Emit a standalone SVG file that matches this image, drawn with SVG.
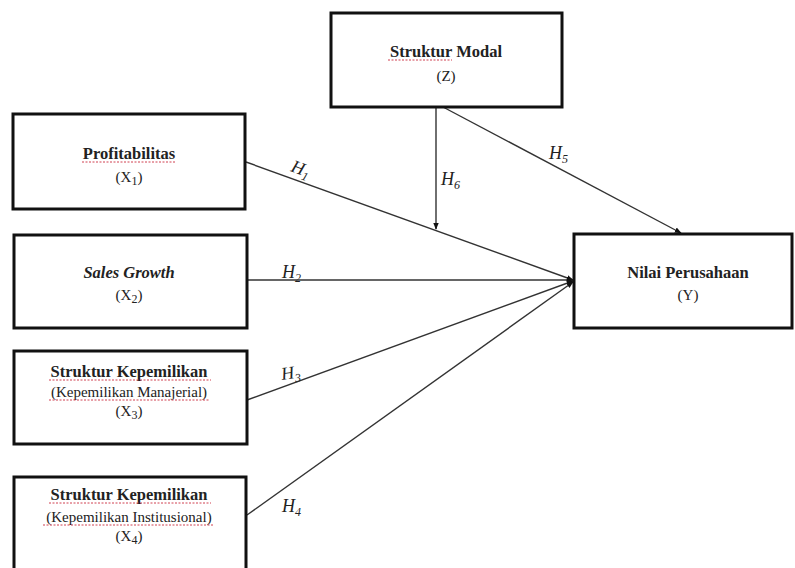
<svg xmlns="http://www.w3.org/2000/svg" width="795" height="568" viewBox="0 0 795 568">
<style>
.box{fill:#fff;stroke:#111;stroke-width:3}
.t{font-family:"Liberation Serif","Times New Roman",serif;font-size:15px;fill:#222;text-anchor:middle}
.b{font-weight:bold;font-size:16.5px}
.i{font-style:italic}
.h{font-family:"Liberation Serif","Times New Roman",serif;font-size:18px;font-style:italic;fill:#222}
.sub{font-size:12px}
.c{stroke:#333;stroke-width:1.4;fill:none}
.sq{stroke:#d04050;stroke-width:1;fill:none;stroke-dasharray:2 1.5}
</style>
<defs>
<marker id="ah" viewBox="0 0 10 10" refX="9" refY="5" markerWidth="7" markerHeight="7" orient="auto" markerUnits="userSpaceOnUse">
<path d="M0,1 L10,5 L0,9 z" fill="#111"/>
</marker>
</defs>
<rect width="795" height="568" fill="#fff"/>
<g id="connectors">
<line class="c" x1="246" y1="162" x2="573" y2="280" marker-end="url(#ah)"/>
<line class="c" x1="247" y1="280" x2="573" y2="280" marker-end="url(#ah)"/>
<line class="c" x1="247" y1="400" x2="573" y2="281" marker-end="url(#ah)"/>
<line class="c" x1="247" y1="515" x2="573" y2="282" marker-end="url(#ah)"/>
<line class="c" x1="443" y1="107" x2="681" y2="233" marker-end="url(#ah)"/>
<line class="c" x1="436" y1="107" x2="436" y2="229" marker-end="url(#ah)"/>
<text class="h" transform="translate(290,171) rotate(20)">H<tspan class="sub" dy="4">1</tspan></text>
<text class="h" x="282" y="278">H<tspan class="sub" dy="4">2</tspan></text>
<text class="h" transform="translate(282,380) rotate(-8)">H<tspan class="sub" dy="4">3</tspan></text>
<text class="h" x="282" y="512">H<tspan class="sub" dy="4">4</tspan></text>
<text class="h" x="549" y="159">H<tspan class="sub" dy="4">5</tspan></text>
<text class="h" x="441" y="185">H<tspan class="sub" dy="4">6</tspan></text>
</g>
<g id="node-z">
<rect class="box" x="331" y="13" width="231" height="94"/>
<text class="t b" x="446" y="57">Struktur Modal</text>
<path class="sq" d="M388,60 h64"/>
<text class="t" x="446" y="81">(Z)</text>
</g>
<g id="node-x1">
<rect class="box" x="13" y="114" width="232" height="95"/>
<text class="t b" x="129" y="159">Profitabilitas</text>
<path class="sq" d="M82,162 h94"/>
<text class="t" x="129" y="182">(X<tspan class="sub" dy="3">1</tspan><tspan dy="-3">)</tspan></text>
</g>
<g id="node-x2">
<rect class="box" x="14" y="235" width="233" height="93"/>
<text class="t b i" x="129" y="278">Sales Growth</text>
<text class="t" x="129" y="300">(X<tspan class="sub" dy="3">2</tspan><tspan dy="-3">)</tspan></text>
</g>
<g id="node-x3">
<rect class="box" x="14" y="351" width="233" height="93"/>
<text class="t b" x="129" y="377">Struktur Kepemilikan</text>
<path class="sq" d="M49,380 h162"/>
<text class="t" x="129" y="397">(Kepemilikan Manajerial)</text>
<path class="sq" d="M49,400 h160"/>
<text class="t" x="129" y="416">(X<tspan class="sub" dy="3">3</tspan><tspan dy="-3">)</tspan></text>
</g>
<g id="node-x4">
<rect class="box" x="14" y="477" width="232" height="100"/>
<text class="t b" x="129" y="500">Struktur Kepemilikan</text>
<path class="sq" d="M49,503 h162"/>
<text class="t" x="129" y="522">(Kepemilikan Institusional)</text>
<path class="sq" d="M43,525 h170"/>
<text class="t" x="129" y="541">(X<tspan class="sub" dy="3">4</tspan><tspan dy="-3">)</tspan></text>
</g>
<g id="node-y">
<rect class="box" x="574" y="234" width="218" height="94"/>
<text class="t b" x="688" y="278">Nilai Perusahaan</text>
<text class="t" x="688" y="300">(Y)</text>
</g>
</svg>
